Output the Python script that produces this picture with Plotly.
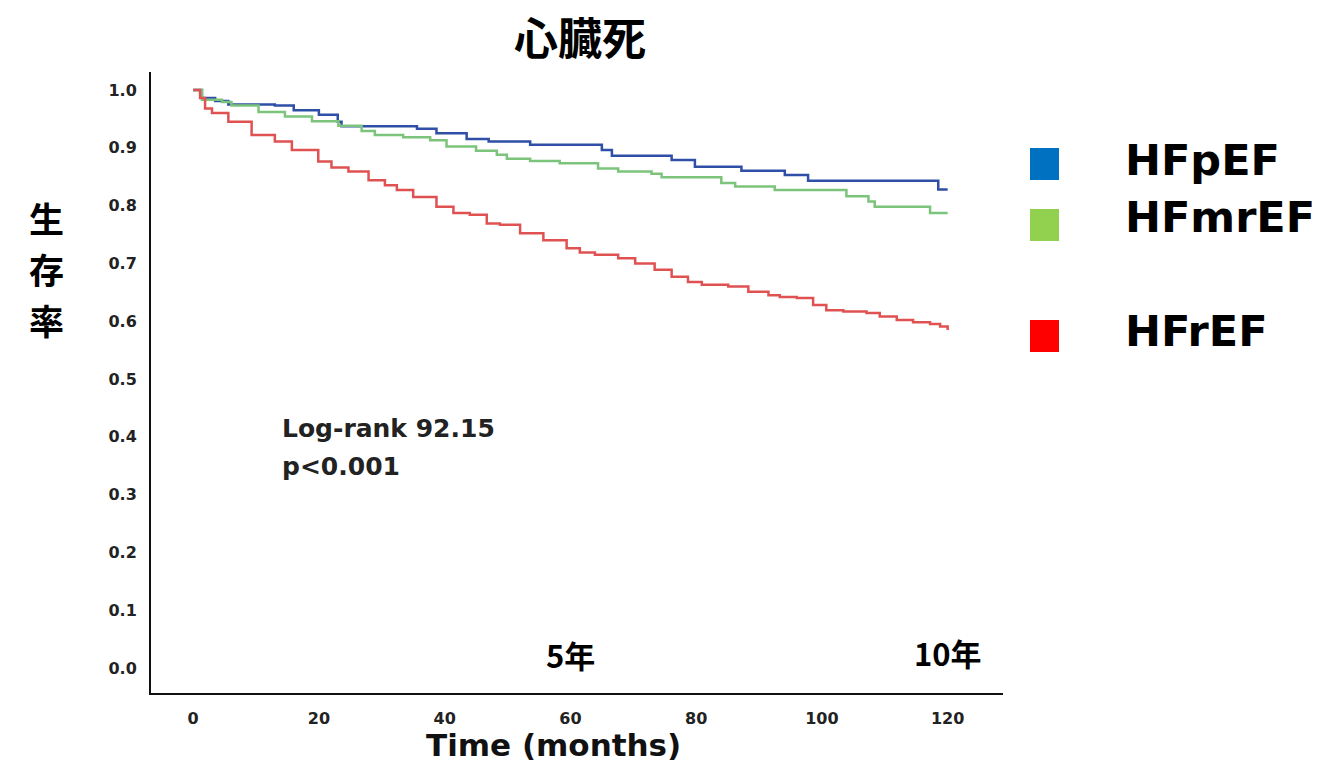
import plotly.graph_objects as go

# ---- data ----
hfpef_t = [0, 1.4, 3.5, 5.6, 13, 16, 20, 23, 23.6, 35.6, 38.7, 43.5, 47, 53.6, 65, 66.6,
           76.1, 79.8, 87.2, 94.1, 97.8, 118.5, 120]
hfpef_s = [1.0, 0.986, 0.981, 0.975, 0.973, 0.965, 0.957, 0.945, 0.937, 0.933, 0.925, 0.915,
           0.911, 0.905, 0.896, 0.886, 0.879, 0.867, 0.860, 0.853, 0.843, 0.828, 0.828]

hfmref_t = [0, 1.4, 4.6, 6.1, 10.4, 14.6, 18.9, 23.1, 26.8, 28.9, 33.4, 37.7, 40.3, 45,
            48.3, 49.9, 53.6, 58.3, 64.4, 67.6, 72.9, 74.5, 84, 86.2, 92.5, 103.9, 107.4,
            108.4, 117.2, 120]
hfmref_s = [1.0, 0.983, 0.979, 0.973, 0.962, 0.954, 0.946, 0.938, 0.929, 0.922, 0.918, 0.913,
            0.902, 0.895, 0.888, 0.881, 0.877, 0.873, 0.864, 0.859, 0.855, 0.849, 0.839,
            0.833, 0.827, 0.816, 0.807, 0.798, 0.787, 0.787]

hfref_t = [0, 1.1, 1.9, 3, 5.6, 9.3, 13, 15.7, 19.9, 22, 24.7, 27.9, 30.5, 32.4, 35, 38.7,
           41.4, 44, 46.7, 48.8, 52, 55.7, 59.4, 61.5, 63.9, 67.6, 70.3, 73.4, 76.1, 78.7,
           80.9, 85.1, 88.3, 91.5, 93.3, 96, 98.6, 100.7, 103.4, 107.1, 109.2, 111.9, 114.5,
           117.2, 118.8, 120]
hfref_s = [1.0, 0.986, 0.968, 0.960, 0.945, 0.922, 0.911, 0.896, 0.876, 0.866, 0.859, 0.844,
           0.835, 0.827, 0.815, 0.798, 0.787, 0.784, 0.769, 0.767, 0.752, 0.740, 0.726, 0.719,
           0.715, 0.709, 0.700, 0.689, 0.677, 0.668, 0.663, 0.660, 0.651, 0.645, 0.642, 0.640,
           0.628, 0.619, 0.617, 0.614, 0.608, 0.602, 0.598, 0.595, 0.591, 0.585]

x_ticks = [0, 20, 40, 60, 80, 100, 120]
y_ticks = [0.0, 0.1, 0.2, 0.3, 0.4, 0.5, 0.6, 0.7, 0.8, 0.9, 1.0]
legend_names = ["HFpEF", "HFmrEF", "HFrEF"]
legend_colors = ["#0070c0", "#92d050", "#ff0000"]
line_colors = ["#2f4fa6", "#7cc47c", "#e05252"]

fig = go.Figure()
fig.add_trace(go.Scatter(x=hfpef_t, y=hfpef_s, mode="lines", line=dict(color=line_colors[0], width=2.5, shape="hv"), name=legend_names[0]))
fig.add_trace(go.Scatter(x=hfmref_t, y=hfmref_s, mode="lines", line=dict(color=line_colors[1], width=2.5, shape="hv"), name=legend_names[1]))
fig.add_trace(go.Scatter(x=hfref_t, y=hfref_s, mode="lines", line=dict(color=line_colors[2], width=2.5, shape="hv"), name=legend_names[2]))

L, R, T, B = 151, 324, 72, 71
W, H = 1327, 764
pw, ph = W - L - R, H - T - B

def px(X):
    return (X - L) / pw

def py(Y):
    return (H - B - Y) / ph

def ann(text, X, Y, size, family, color="#000", xanchor="center"):
    return dict(text=text, x=px(X), y=py(Y), xref="paper", yref="paper", xanchor=xanchor,
                yanchor="middle", showarrow=False, font=dict(family=family, size=size, color=color))

annotations = []
annotations.append(ann("<b>心臓死</b>", 580, 36, 44, "Noto Sans CJK JP"))
for ch, yy in zip("生存率", [217, 268, 319]):
    annotations.append(ann("<b>" + ch + "</b>", 46, yy, 35, "Noto Sans CJK JP"))
annotations.append(ann("<b>Time (months)</b>", 553, 745, 31, "DejaVu Sans", "#111"))

annotations.append(dict(text="<b>Log-rank 92.15</b>", x=13.8, y=0.415, xref="x", yref="y", xanchor="left",
                        yanchor="middle", showarrow=False, font=dict(family="DejaVu Sans", size=25, color="#222")))
annotations.append(dict(text="<b>p<0.001</b>", x=13.8, y=0.348, xref="x", yref="y", xanchor="left",
                        yanchor="middle", showarrow=False, font=dict(family="DejaVu Sans", size=25, color="#222")))
annotations.append(dict(text="<b>5年</b>", x=60, y=0.023, xref="x", yref="y", yanchor="middle",
                        showarrow=False, font=dict(family="Noto Sans CJK JP", size=31, color="#000")))
annotations.append(dict(text="<b>10年</b>", x=120, y=0.027, xref="x", yref="y", yanchor="middle",
                        showarrow=False, font=dict(family="Noto Sans CJK JP", size=31, color="#000")))

shapes = []
sq_tops = [148, 209, 320]
text_centers = [160, 217, 331]
for name, col, top, tc in zip(legend_names, legend_colors, sq_tops, text_centers):
    shapes.append(dict(type="rect", xref="paper", yref="paper", x0=px(1030), x1=px(1059),
                       y0=py(top + 32), y1=py(top), fillcolor=col, line=dict(width=0)))
    annotations.append(ann("<b>" + name + "</b>", 1123, tc, 43, "DejaVu Sans", xanchor="left"))

fig.update_layout(
    width=W, height=H,
    margin=dict(l=L, r=R, t=T, b=B, autoexpand=False),
    paper_bgcolor="white", plot_bgcolor="white",
    showlegend=False,
    annotations=annotations,
    shapes=shapes,
    xaxis=dict(range=[-6.7, 128.8], tickvals=x_ticks, ticks="", showgrid=False, zeroline=False,
               showline=True, linecolor="#111", linewidth=2, ticklabelstandoff=10,
               tickfont=dict(family="DejaVu Sans", size=16, color="#222", weight="bold")),
    yaxis=dict(range=[-0.043, 1.031], tickvals=y_ticks, tickformat=".1f", ticks="", showgrid=False,
               zeroline=False, showline=True, linecolor="#111", linewidth=2, ticklabelstandoff=9,
               tickfont=dict(family="DejaVu Sans", size=16, color="#222", weight="bold")),
)

fig.write_html("out.html", config={"displayModeBar": False},
               post_script="document.body.style.margin='0';document.body.style.overflow='hidden';")
